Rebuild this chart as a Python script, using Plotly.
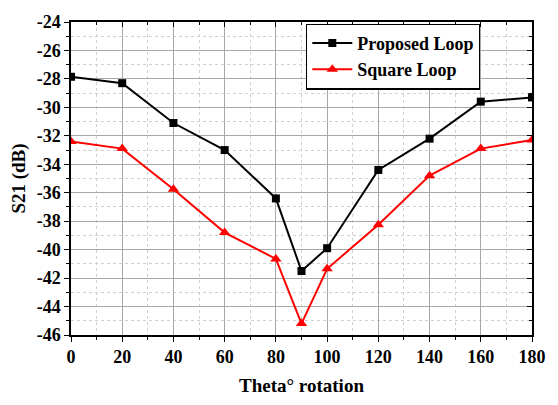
import plotly.graph_objects as go

theta = [0, 20, 40, 60, 80, 90, 100, 120, 140, 160, 180]
proposed = [-27.85, -28.3, -31.1, -33.0, -36.4, -41.5, -39.9, -34.4, -32.2, -29.6, -29.3]
square = [-32.4, -32.9, -35.75, -38.8, -40.65, -45.2, -41.35, -38.25, -34.8, -32.9, -32.3]

x_ticks = [0, 20, 40, 60, 80, 100, 120, 140, 160, 180]
y_ticks = [-46, -44, -42, -40, -38, -36, -34, -32, -30, -28, -26, -24]

tickfont = dict(family="Liberation Serif", size=18, color="black", weight="bold")
titlefont = dict(family="Liberation Serif", size=19, color="black", weight="bold")

fig = go.Figure()
fig.add_trace(go.Scatter(x=theta, y=proposed, mode="lines+markers", name="<b>Proposed Loop</b>",
                         line=dict(color="black", width=2),
                         marker=dict(symbol="square", size=8, color="black")))
fig.add_trace(go.Scatter(x=theta, y=square, mode="lines+markers", name="<b>Square Loop</b>",
                         line=dict(color="red", width=2),
                         marker=dict(symbol="triangle-up", size=10, color="red")))

common = dict(showline=True, linecolor="black", linewidth=1.5, zeroline=False,
              gridcolor="#a8a8a8", gridwidth=1, ticks="outside", ticklen=5,
              tickcolor="black", tickfont=tickfont, tickmode="array")
fig.update_xaxes(range=[0, 180], tickvals=x_ticks,
                 ticktext=["<b>%d</b>" % v for v in x_ticks],
                 minor=dict(dtick=10, tick0=0, ticks="outside", ticklen=3, tickcolor="black",
                            showgrid=True, gridcolor="#d0d0d0", griddash="dot"),
                 title=dict(text="<b>Theta° rotation</b>", font=titlefont, standoff=12),
                 **common)
fig.update_yaxes(range=[-46, -24], tickvals=y_ticks,
                 ticktext=["<b>-%d</b>" % abs(v) for v in y_ticks],
                 minor=dict(dtick=1, tick0=0, ticks="outside", ticklen=3, tickcolor="black",
                            showgrid=True, gridcolor="#d0d0d0", griddash="dot"),
                 title=dict(text="<b>S21 (dB)</b>", font=titlefont, standoff=6),
                 **common)

fig.update_layout(
    width=558, height=405,
    margin=dict(l=71, r=22, t=14, b=69),
    plot_bgcolor="white", paper_bgcolor="white",
    font=tickfont,
    showlegend=True,
    legend=dict(x=0.51, y=0.995, xanchor="left", yanchor="top",
                bordercolor="black", borderwidth=1.2, bgcolor="white",
                font=dict(family="Liberation Serif", size=18, color="black", weight="bold"),
                tracegroupgap=0, itemwidth=40),
    xaxis2=dict(overlaying="x", side="top", range=[0, 180], dtick=20, tick0=0,
                showline=True, linecolor="black", linewidth=1.5, showgrid=False,
                ticks="inside", ticklen=5, tickcolor="black", showticklabels=False,
                zeroline=False,
                minor=dict(dtick=10, ticks="inside", ticklen=3, tickcolor="black")),
    yaxis2=dict(overlaying="y", side="right", range=[-46, -24], dtick=2, tick0=0,
                showline=True, linecolor="black", linewidth=1.5, showgrid=False,
                ticks="inside", ticklen=5, tickcolor="black", showticklabels=False,
                zeroline=False,
                minor=dict(dtick=1, ticks="inside", ticklen=3, tickcolor="black")),
)
fig.add_trace(go.Scatter(x=[None], y=[None], xaxis="x2", yaxis="y2", showlegend=False, hoverinfo="skip"))

fig.write_html("out.html")
